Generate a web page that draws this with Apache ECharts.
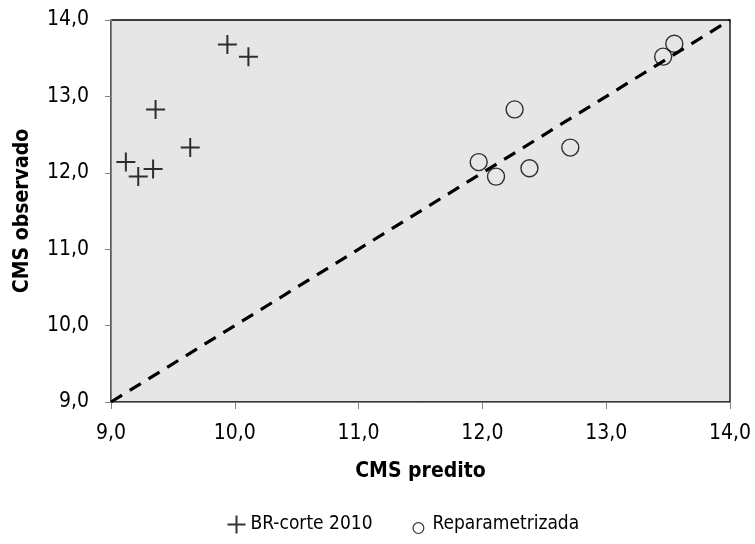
<!DOCTYPE html>
<html><head><meta charset="utf-8">
<script src="https://cdn.jsdelivr.net/npm/echarts@6/dist/echarts.min.js"></script>
<style>html,body{margin:0;padding:0;background:#fff}#c{width:755px;height:544px}</style>
</head><body><div id="c"></div>
<script>
const brX = [9.12, 9.22, 9.34, 9.36, 9.64, 9.94, 10.11];
const brY = [12.14, 11.95, 12.05, 12.83, 12.33, 13.68, 13.52];
const repX = [11.97, 12.11, 12.38, 12.26, 12.71, 13.46, 13.55];
const repY = [12.14, 11.95, 12.06, 12.83, 12.33, 13.52, 13.69];
const lineX = [9, 14];
const lineY = [9, 14];
const seriesNames = ['BR-corte 2010', 'Reparametrizada'];

const plus = 'path://M0,10 L20,10 M10,0 L10,20';
const font = '"DejaVu Sans Condensed", "Liberation Sans Narrow", sans-serif';
const fmt = v => v.toFixed(1).replace('.', ',');

const chart = echarts.init(document.getElementById('c'));
chart.setOption({
  animation: false,
  textStyle: {fontFamily: font},
  grid: {left: 111, right: 25, top: 20, bottom: 142, show: true, backgroundColor: '#e6e6e6', borderColor: '#000', borderWidth: 1.3},
  xAxis: {
    type: 'value', min: 9, max: 14, interval: 1,
    name: 'CMS predito', nameLocation: 'middle', nameGap: 59,
    nameTextStyle: {fontWeight: 'bold', fontSize: 21, color: '#000', fontFamily: font},
    axisLine: {show: true, onZero: false, lineStyle: {color: '#808080', width: 1}},
    axisTick: {show: true, length: 7, lineStyle: {color: '#808080'}},
    axisLabel: {formatter: fmt, fontSize: 21, color: '#000', margin: 21, fontFamily: font},
    splitLine: {show: false}
  },
  yAxis: {
    type: 'value', min: 9, max: 14, interval: 1,
    name: 'CMS observado', nameLocation: 'middle', nameGap: 78, nameRotate: 90,
    nameTextStyle: {fontWeight: 'bold', fontSize: 21, color: '#000', fontFamily: font},
    axisLine: {show: true, onZero: false, lineStyle: {color: '#808080', width: 1}},
    axisTick: {show: true, length: 6, lineStyle: {color: '#808080'}},
    axisLabel: {formatter: fmt, fontSize: 21, color: '#000', margin: 22, fontFamily: font},
    splitLine: {show: false}
  },
  legend: {
    top: 508, left: 220, itemGap: 38, itemWidth: 18, itemHeight: 18,
    textStyle: {fontSize: 19, color: '#000', fontFamily: font},
    data: [
      {name: seriesNames[0], icon: plus, itemStyle: {color: 'none', borderColor: '#000', borderWidth: 2}},
      {name: seriesNames[1], icon: 'path://M0,14 A6,6 0 1,1 12,14 A6,6 0 1,1 0,14 Z M0,0 L0,0.01', itemStyle: {color: 'none', borderColor: '#000', borderWidth: 1.2}}
    ]
  },
  series: [
    {
      type: 'line', data: lineX.map((x, i) => [x, lineY[i]]), symbol: 'none', silent: true,
      lineStyle: {color: '#000', width: 3.2, type: [13, 9]}, z: 1
    },
    {
      name: seriesNames[0], type: 'scatter', symbol: plus, symbolSize: 19,
      data: brX.map((x, i) => [x, brY[i]]),
      itemStyle: {color: 'none', borderColor: '#000', borderWidth: 2}, z: 3
    },
    {
      name: seriesNames[1], type: 'scatter', symbol: 'circle', symbolSize: 17,
      data: repX.map((x, i) => [x, repY[i]]),
      itemStyle: {color: 'none', borderColor: '#000', borderWidth: 1.4}, z: 3
    }
  ]
});
</script></body></html>
